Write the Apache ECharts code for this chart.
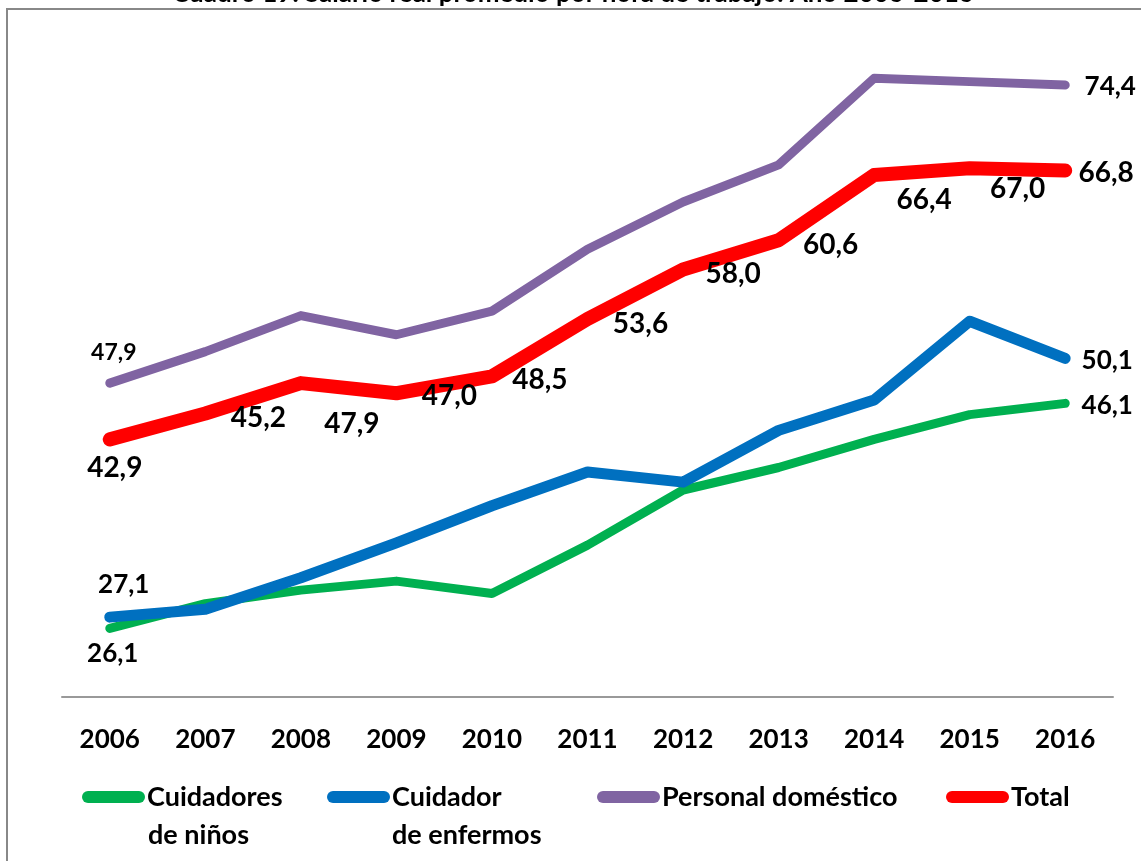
<!DOCTYPE html>
<html>
<head>
<meta charset="utf-8">
<title>Salario real promedio por hora de trabajo</title>
<script src="https://cdn.jsdelivr.net/npm/echarts@6/dist/echarts.min.js"></script>
<style>
  html, body { margin: 0; padding: 0; background: #fff; }
  #chart_main { width: 1141px; height: 861px; }
</style>
</head>
<body>
<div id="chart_main"></div>
<script>
var years = ['2006', '2007', '2008', '2009', '2010', '2011', '2012', '2013', '2014', '2015', '2016'];
var cuidadoresNinos = [26.1, 28.3, 29.5, 30.3, 29.2, 33.5, 38.4, 40.4, 42.9, 45.1, 46.1];
var cuidadorEnfermos = [27.1, 27.8, 30.6, 33.7, 37.0, 40.0, 39.1, 43.7, 46.4, 53.4, 50.1];
var personalDomestico = [47.9, 50.7, 53.9, 52.2, 54.3, 59.8, 64.0, 67.3, 75.0, 74.7, 74.4];
var total = [42.9, 45.2, 47.9, 47.0, 48.5, 53.6, 58.0, 60.6, 66.4, 67.0, 66.8];

var seriesNames = ['Cuidadores de niños', 'Cuidador de enfermos', 'Personal doméstico', 'Total'];
var colors = ['#00B050', '#0070C0', '#8064A2', '#FF0000'];

// donde va cada etiqueta (desplazamiento respecto al punto), null = sin etiqueta
var ninosLabels = [[3, 25], null, null, null, null, null, null, null, null, null, [42, 2]];
var enfermosLabels = [[14, -33], null, null, null, null, null, null, null, null, null, [42, 2]];
var domesticoLabels = [[4, -31], null, null, null, null, null, null, null, null, null, [45, 2]];
var totalLabels = [[5, 29], [53, 4], [51, 41], [53, 3], [48, 4], [53, 5], [50, 4], [52, 5], [50, 25], [48, 21], [41, 2]];

var FONT = 'Lato';

function fmt(v) {
    return v.toFixed(1).replace('.', ',');
}

function buildData(values, offsets, fontSize) {
    return values.map(function (v, i) {
        var off = offsets[i];
        if (!off) return v;
        return {
            value: v,
            label: {
                show: true,
                position: 'inside',
                offset: off,
                formatter: function (p) { return fmt(p.value); },
                color: '#000',
                fontFamily: FONT,
                fontWeight: 'bold',
                fontSize: (i === 0 && values === personalDomestico) ? 23 : fontSize
            }
        };
    });
}

function lineSeries(idx, values, offsets, width, fontSize) {
    return {
        name: seriesNames[idx],
        type: 'line',
        data: buildData(values, offsets, fontSize),
        symbol: 'circle',
        symbolSize: 1,
        showSymbol: true,
        itemStyle: { color: colors[idx] },
        lineStyle: { color: colors[idx], width: width, cap: 'round', join: 'round' },
        label: { show: false },
        emphasis: { disabled: true }
    };
}

// capsula para la leyenda
var capsule = 'path://M6,0 H57 A6,6 0 0 1 57,12 H6 A6,6 0 0 1 6,0 Z';

function legendItem(idx, left, text) {
    return {
        data: [seriesNames[idx]],
        left: left,
        top: 778,
        padding: 0,
        icon: capsule,
        itemWidth: 63,
        itemHeight: 12,
        selectedMode: false,
        formatter: function () { return text; },
        textStyle: {
            color: '#000',
            fontFamily: FONT,
            fontWeight: 'bold',
            fontSize: 27,
            lineHeight: 38,
            padding: [0, 0, 0, -3]
        }
    };
}

// segunda linea de los nombres largos de la leyenda
function legendSecondLine(x, text) {
    return {
        type: 'text',
        x: x,
        y: 835,
        style: {
            text: text,
            fontFamily: FONT,
            fontWeight: 'bold',
            fontSize: 27,
            fill: '#000',
            align: 'left',
            verticalAlign: 'middle'
        }
    };
}

var myChart = echarts.init(document.getElementById('chart_main'));
var option = {
    backgroundColor: '#fff',
    animation: false,
    graphic: [
        {
            type: 'rect',
            z: -10,
            shape: { x: 7, y: 9, width: 1200, height: 900 },
            style: { fill: 'none', stroke: '#888', lineWidth: 2 }
        },
        {
            type: 'text',
            x: 573,
            y: 7,
            style: {
                text: 'Cuadro 19. Salario real promedio por hora de trabajo. Año 2006-2016',
                fontFamily: FONT,
                fontWeight: 'bold',
                fontSize: 26,
                fill: '#000',
                align: 'center',
                verticalAlign: 'bottom'
            }
        },
        legendSecondLine(148, 'de niños'),
        legendSecondLine(392, 'de enfermos')
    ],
    grid: {
        left: 62,
        right: 28,
        top: 22,
        bottom: 164
    },
    legend: [
        legendItem(0, 82, 'Cuidadores'),
        legendItem(1, 327, 'Cuidador'),
        legendItem(2, 597, 'Personal doméstico'),
        legendItem(3, 946, 'Total')
    ],
    xAxis: {
        type: 'category',
        data: years,
        boundaryGap: true,
        axisLine: { show: true, lineStyle: { color: '#999', width: 2 } },
        axisTick: { show: false },
        axisLabel: {
            margin: 30,
            color: '#000',
            fontFamily: FONT,
            fontWeight: 'bold',
            fontSize: 26
        }
    },
    yAxis: {
        type: 'value',
        min: 20,
        max: 80,
        show: false,
        splitLine: { show: false }
    },
    series: [
        lineSeries(0, cuidadoresNinos, ninosLabels, 9, 26),
        lineSeries(1, cuidadorEnfermos, enfermosLabels, 11, 26),
        lineSeries(2, personalDomestico, domesticoLabels, 9, 26),
        lineSeries(3, total, totalLabels, 14, 28)
    ]
};
myChart.setOption(option);
window.addEventListener('resize', function () { myChart.resize(); });
</script>
</body>
</html>
